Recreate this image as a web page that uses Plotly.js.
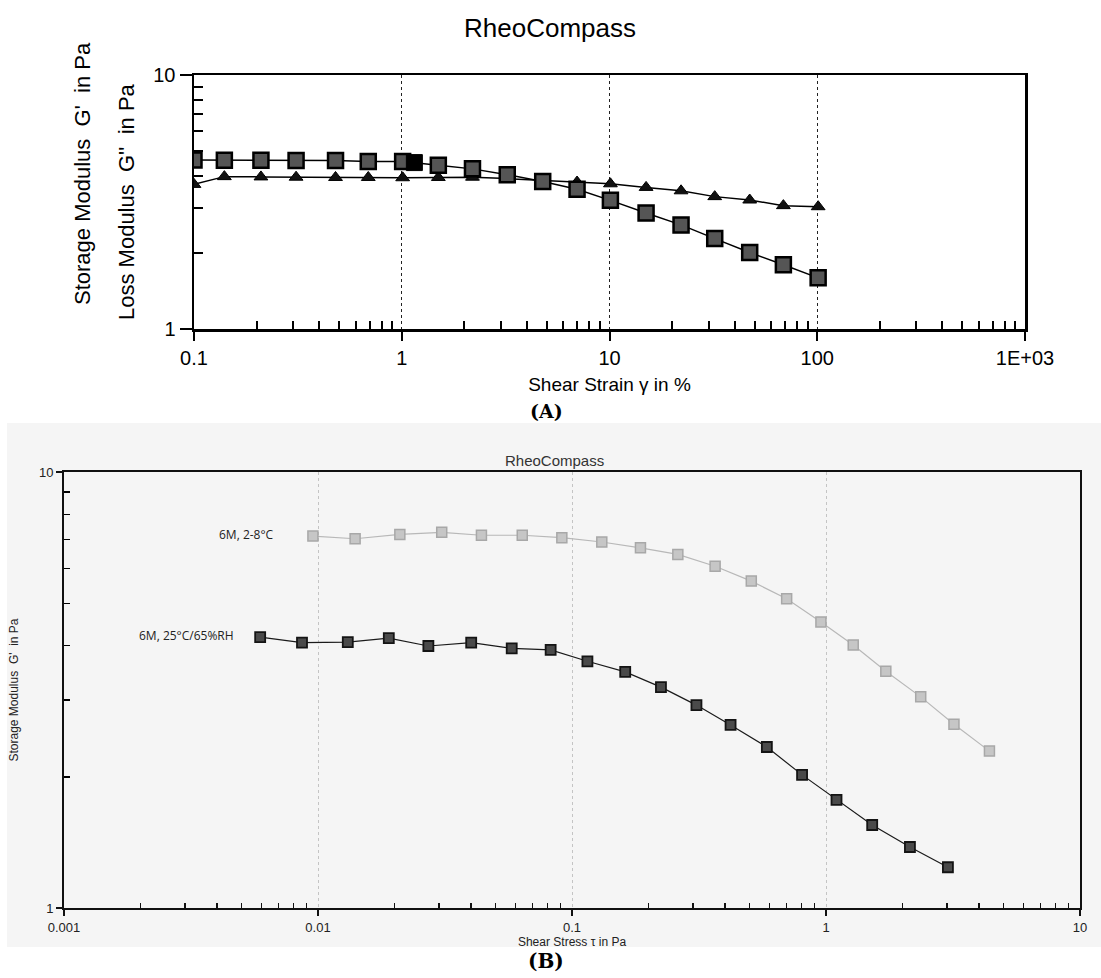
<!DOCTYPE html>
<html>
<head>
<meta charset="utf-8">
<script src="https://cdn.plot.ly/plotly-3.0.1.min.js"></script>
<style>html,body{margin:0;padding:0;background:#fff;}#chart{width:1101px;height:978px;}</style>
</head>
<body>
<div id="chart"></div>
<script>
// ---------- Panel (A): amplitude sweep, shear strain in % ----------
const strainA   = [0.1, 0.14, 0.21, 0.31, 0.48, 0.69, 1.01, 1.50, 2.19, 3.22, 4.77, 6.98, 10.1, 15.0, 22.1, 32.1, 47.3, 68.7, 101];
const storageA  = [4.63, 4.62, 4.62, 4.61, 4.61, 4.56, 4.56, 4.41, 4.27, 4.05, 3.81, 3.55, 3.21, 2.86, 2.57, 2.27, 2.00, 1.79, 1.59];
const lossA     = [3.71, 3.98, 3.97, 3.96, 3.95, 3.95, 3.94, 3.95, 3.96, 3.91, 3.85, 3.79, 3.73, 3.61, 3.50, 3.32, 3.22, 3.06, 3.03];
const highlightX = [1.15];
const highlightY = [4.52];
const tickValsA  = [0.1, 1, 10, 100, 1000];
const tickTextA  = ['0.1', '1', '10', '100', '1E+03'];

// ---------- Panel (B): shear stress sweep ----------
const stressDark = [0.00592, 0.00865, 0.0131, 0.0190, 0.0272, 0.0401, 0.0579, 0.0824, 0.115, 0.162, 0.224, 0.309, 0.421, 0.585, 0.805, 1.10, 1.52, 2.14, 3.02];
const gDark      = [4.18, 4.06, 4.07, 4.16, 3.99, 4.06, 3.94, 3.91, 3.68, 3.48, 3.21, 2.92, 2.63, 2.34, 2.02, 1.77, 1.55, 1.38, 1.24];
const stressLight = [0.00955, 0.0140, 0.0210, 0.0307, 0.0440, 0.0637, 0.0912, 0.131, 0.186, 0.261, 0.366, 0.508, 0.700, 0.955, 1.28, 1.72, 2.36, 3.19, 4.40];
const gLight      = [7.13, 7.03, 7.19, 7.27, 7.16, 7.16, 7.07, 6.91, 6.70, 6.47, 6.08, 5.62, 5.12, 4.53, 4.01, 3.49, 3.05, 2.64, 2.29];
const seriesNamesB = ['6M, 2-8°C', '6M, 25°C/65%RH'];
const tickValsB = [0.001, 0.01, 0.1, 1, 10];
const tickTextB = ['0.001', '0.01', '0.1', '1', '10'];

// helpers
const W = 1101, H = 978;
const px = v => v / W;
const py = v => 1 - v / H;
function minorLog(lo, hi) { const out = []; for (let e = lo; e < hi; e++) for (let m = 2; m <= 9; m++) out.push(m * Math.pow(10, e)); return out; }

const NARROW = "'Liberation Sans Narrow', 'Arial Narrow', 'Liberation Sans', Arial, sans-serif";
const SANS = "'Liberation Sans', Arial, sans-serif";

const traces = [
  { x: strainA, y: lossA, xaxis: 'x', yaxis: 'y', mode: 'lines+markers', name: "G''",
    line: { color: '#000', width: 1.5 },
    marker: { symbol: 'triangle-up', size: 12, color: '#111', line: { color: '#000', width: 1 } } },
  { x: strainA, y: storageA, xaxis: 'x', yaxis: 'y', mode: 'lines+markers', name: "G'",
    line: { color: '#000', width: 1.5 },
    marker: { symbol: 'square', size: 15, color: '#555', line: { color: '#000', width: 2.5 } } },
  { x: highlightX, y: highlightY, xaxis: 'x', yaxis: 'y', mode: 'markers', name: 'highlight',
    marker: { symbol: 'square', size: 16, color: '#000', line: { color: '#000', width: 1 } } },
  { x: stressLight, y: gLight, xaxis: 'x2', yaxis: 'y2', mode: 'lines+markers', name: seriesNamesB[0],
    line: { color: '#b8b8b8', width: 1.2 },
    marker: { symbol: 'square', size: 10, color: '#c6c6c6', line: { color: '#a8a8a8', width: 1.5 } } },
  { x: stressDark, y: gDark, xaxis: 'x2', yaxis: 'y2', mode: 'lines+markers', name: seriesNamesB[1],
    line: { color: '#1a1a1a', width: 1.2 },
    marker: { symbol: 'square', size: 10, color: '#4a4a4a', line: { color: '#141414', width: 1.8 } } },
  // empty traces so the overlay tick-only axes are drawn
  { x: [], y: [], xaxis: 'x', yaxis: 'y3', mode: 'markers', hoverinfo: 'skip', showlegend: false },
  { x: [], y: [], xaxis: 'x2', yaxis: 'y4', mode: 'markers', hoverinfo: 'skip', showlegend: false }
];

function note(text, x, y, font, extra) {
  return Object.assign({ text: text, xref: 'paper', yref: 'paper', x: px(x), y: py(y), xanchor: 'center', yanchor: 'middle', showarrow: false, font: font }, extra || {});
}

// overlay axes that only carry the inward-pointing minor ticks of the y axes
function minorYAxis(overlay, anchor, len, width) {
  return {
    overlaying: overlay, anchor: anchor, side: 'left',
    type: 'log', range: [0, 1],
    tickmode: 'array', tickvals: minorLog(0, 1), ticks: 'inside', ticklen: len, tickwidth: width, tickcolor: '#000',
    showticklabels: false, showgrid: false, zeroline: false, showline: false
  };
}

const layout = {
  width: W, height: H,
  margin: { l: 0, r: 0, t: 0, b: 0 },
  paper_bgcolor: '#ffffff',
  plot_bgcolor: 'rgba(0,0,0,0)',
  showlegend: false,
  xaxis: {
    type: 'log', range: [-1, 3], domain: [px(194), px(1025)], anchor: 'y',
    showline: true, linecolor: '#000', linewidth: 2.5, mirror: true,
    ticks: 'outside', ticklen: 9, tickwidth: 2, tickcolor: '#000',
    tickmode: 'array', tickvals: tickValsA, ticktext: tickTextA,
    tickfont: { family: NARROW, size: 20, color: '#000' },
    showgrid: true, gridcolor: '#222', griddash: 'dot', gridwidth: 1,
    minor: { tickmode: 'array', tickvals: minorLog(-1, 3), ticks: 'inside', ticklen: 8, tickwidth: 2, tickcolor: '#000', showgrid: false },
    zeroline: false,
    title: { text: 'Shear Strain \u03b3 in %', font: { family: NARROW, size: 19, color: '#000' }, standoff: 10 }
  },
  yaxis: {
    type: 'log', range: [0, 1], domain: [py(329), py(75)], anchor: 'x',
    showline: true, linecolor: '#000', linewidth: 2.5, mirror: true,
    ticks: 'outside', ticklen: 12, tickwidth: 2, tickcolor: '#000',
    tickmode: 'array', tickvals: [1, 10], ticktext: ['1', '10'],
    tickfont: { family: NARROW, size: 20, color: '#000' },
    showgrid: false, zeroline: false
  },
  yaxis3: minorYAxis('y', 'x', 9, 2),
  xaxis2: {
    type: 'log', range: [-3, 1], domain: [px(64), px(1080)], anchor: 'y2',
    showline: true, linecolor: '#111', linewidth: 2, mirror: true,
    ticks: 'outside', ticklen: 6, tickwidth: 1.5, tickcolor: '#111',
    tickmode: 'array', tickvals: tickValsB, ticktext: tickTextB,
    tickfont: { family: SANS, size: 13, color: '#222' },
    showgrid: true, gridcolor: '#c4c4c4', griddash: 'dot', gridwidth: 1,
    minor: { tickmode: 'array', tickvals: minorLog(-3, 1), ticks: 'inside', ticklen: 5, tickwidth: 1.5, tickcolor: '#111', showgrid: false },
    zeroline: false,
    title: { text: 'Shear Stress \u03c4 in Pa', font: { family: SANS, size: 12, color: '#222' }, standoff: 0 }
  },
  yaxis2: {
    type: 'log', range: [0, 1], domain: [py(908), py(472)], anchor: 'x2',
    showline: true, linecolor: '#111', linewidth: 2, mirror: true,
    ticks: 'outside', ticklen: 6, tickwidth: 1.5, tickcolor: '#111',
    tickmode: 'array', tickvals: [1, 10], ticktext: ['1', '10'],
    tickfont: { family: SANS, size: 13, color: '#222' },
    showgrid: false, zeroline: false,
    title: { text: "Storage Modulus  G'  in Pa", font: { family: SANS, size: 12, color: '#222' }, standoff: 18 }
  },
  yaxis4: minorYAxis('y2', 'x2', 6, 1.5),
  shapes: [
    { type: 'rect', xref: 'paper', yref: 'paper', x0: px(7), x1: 1, y0: py(947), y1: py(423),
      fillcolor: '#f5f5f5', line: { width: 0 }, layer: 'below' }
  ],
  annotations: [
    note('RheoCompass', 550, 28, { family: NARROW, size: 26, color: '#000' }),
    note("Storage Modulus  G'  in Pa", 83, 174, { family: NARROW, size: 22, color: '#000' }, { textangle: -90 }),
    note("Loss Modulus  G''  in Pa", 126, 202, { family: NARROW, size: 22, color: '#000' }, { textangle: -90 }),
    note('<b>(A)</b>', 546, 411, { family: "'DejaVu Serif', serif", size: 19, color: '#000' }),
    note('RheoCompass', 554, 460, { family: SANS, size: 15, color: '#333' }),
    note(seriesNamesB[0], 276, 534, { family: "'Open Sans', sans-serif", size: 12, color: '#222' }, { xanchor: 'right' }),
    note(seriesNamesB[1], 236, 635, { family: "'Open Sans', sans-serif", size: 12, color: '#222' }, { xanchor: 'right' }),
    note('<b>(B)</b>', 546, 961, { family: "'DejaVu Serif', serif", size: 20, color: '#000' })
  ]
};

Plotly.newPlot('chart', traces, layout, { staticPlot: true, displayModeBar: false });
</script>
</body>
</html>
